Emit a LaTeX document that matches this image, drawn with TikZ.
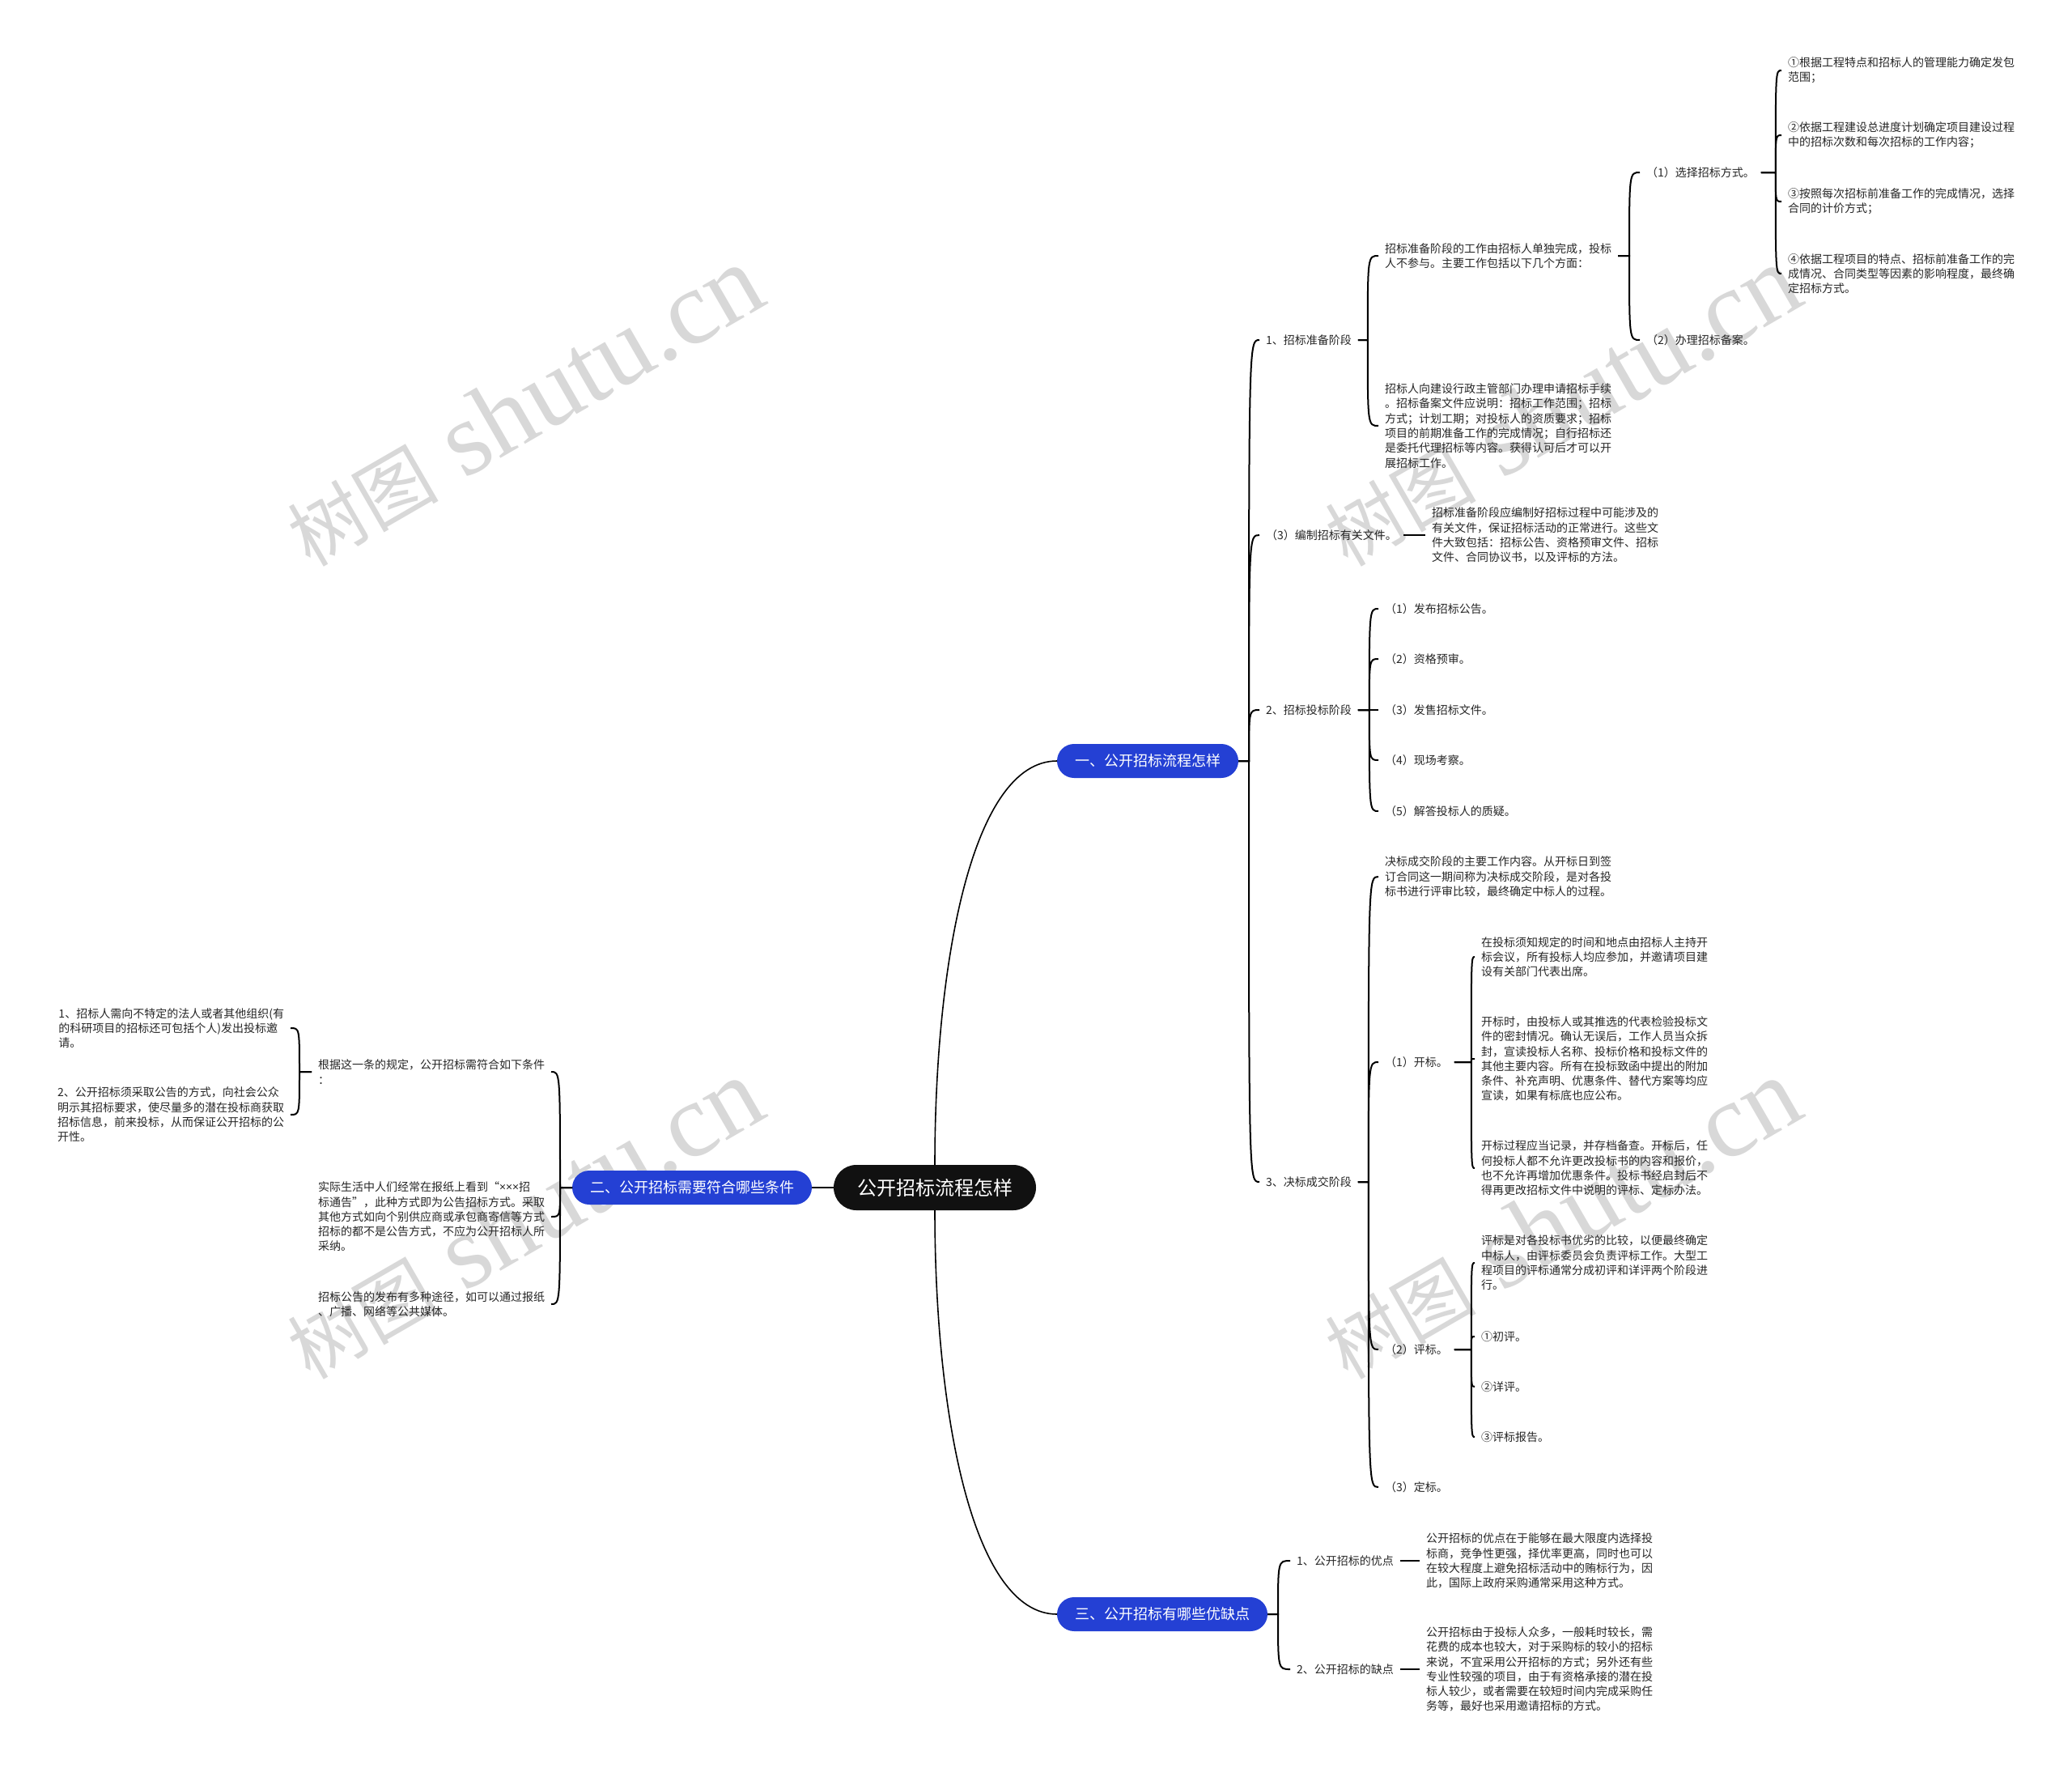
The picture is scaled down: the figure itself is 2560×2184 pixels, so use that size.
\documentclass[tikz,border=0pt]{standalone}
\usepackage{fontspec}
\setmainfont{Noto Sans CJK SC}
\newfontfamily\wmcjk{Noto Sans CJK SC}
\newfontfamily\wmlat{Liberation Serif}
\newfontfamily\latf{Noto Sans}
\usetikzlibrary{calc}
\definecolor{pillblue}{RGB}{36,64,212}
\definecolor{rootblack}{RGB}{17,17,17}
\definecolor{tcol}{RGB}{38,38,38}
\definecolor{wmgray}{RGB}{216,216,216}
\newcommand\fs{\fontsize{14}{18.3}\selectfont}
\newcommand\rlink[3]{\draw[conn] let \p1=(#1.east), \p2=(#2.west) in (\p1) -- (\x1+#3pt,\y1) .. controls (\x1+#3pt,\y2) and (\x1+#3pt,\y2) .. (\p2);}
\newcommand\llink[3]{\draw[conn] let \p1=(#1.west), \p2=(#2.east) in (\p1) -- (\x1-#3pt,\y1) .. controls (\x1-#3pt,\y2) and (\x1-#3pt,\y2) .. (\p2);}
\newcommand\wmtext{{\wmcjk\fontsize{93}{93}\selectfont 树图}{\wmlat\fontsize{130}{130}\selectfont\ shutu.cn}}
\begin{document}
\begin{tikzpicture}[x=1pt,y=-1pt,
  txt/.style={inner xsep=0pt,inner ysep=1pt,outer xsep=8pt,outer ysep=0pt,align=left,font=\fs,text=tcol},
  pill/.style={rounded corners=21pt,fill=pillblue,text=white,font=\fontsize{18}{22}\selectfont,minimum height=42pt,inner xsep=22pt,inner ysep=0pt,outer sep=0pt},
  rootpill/.style={rounded corners=28pt,fill=rootblack,text=white,font=\fontsize{24}{28}\selectfont,minimum height=56pt,inner xsep=29pt,inner ysep=0pt,outer sep=0pt},
  conn/.style={draw=black,line width=2pt},
  rconn/.style={draw=black,line width=1.6pt},
  wm/.style={rotate=30,text=wmgray,inner sep=0pt}]
\useasboundingbox (0,0) rectangle (2560,2184);
\fill[white] (0,0) rectangle (2560,2184);

% watermarks
\node[wm] (wm1) at (647,502) {\wmtext};
\node[wm] (wm2) at (1929,502) {\wmtext};
\node[wm] (wm3) at (647,1506) {\wmtext};
\node[wm] (wm4) at (1929,1506) {\wmtext};

% main nodes
\node[rootpill] (root) at (1155,1467) {公开招标流程怎样};
\node[pill] (b1) at (1418,940) {一、公开招标流程怎样};
\node[pill] (b2) at (855,1467) {二、公开招标需要符合哪些条件};
\node[pill] (b3) at (1436,1994) {三、公开招标有哪些优缺点};

% branch 1 children
\node[txt,anchor=west] (n1) at (1556,420) {1、招标准备阶段};
\node[txt,anchor=west] (n3) at (1556,661) {（3）编制招标有关文件。};
\node[txt,anchor=west] (n2) at (1556,877) {2、招标投标阶段};
\node[txt,anchor=west] (n4) at (1556,1460) {3、决标成交阶段};

\node[txt,anchor=west] (n11) at (1703,316) {招标准备阶段的工作由招标人单独完成，投标\\人不参与。主要工作包括以下几个方面：};
\node[txt,anchor=west] (n12) at (1703,526) {招标人向建设行政主管部门办理申请招标手续\\。招标备案文件应说明：招标工作范围；招标\\方式；计划工期；对投标人的资质要求；招标\\项目的前期准备工作的完成情况；自行招标还\\是委托代理招标等内容。获得认可后才可以开\\展招标工作。};

\node[txt,anchor=west] (n111) at (2026,213) {（1）选择招标方式。};
\node[txt,anchor=west] (n112) at (2026,420) {（2）办理招标备案。};

\node[txt,anchor=west] (a1) at (2201,87) {①根据工程特点和招标人的管理能力确定发包\\范围；};
\node[txt,anchor=west] (a2) at (2201,167) {②依据工程建设总进度计划确定项目建设过程\\中的招标次数和每次招标的工作内容；};
\node[txt,anchor=west] (a3) at (2201,249) {③按照每次招标前准备工作的完成情况，选择\\合同的计价方式；};
\node[txt,anchor=west] (a4) at (2201,338) {④依据工程项目的特点、招标前准备工作的完\\成情况、合同类型等因素的影响程度，最终确\\定招标方式。};

\node[txt,anchor=west] (n3c) at (1761,661) {招标准备阶段应编制好招标过程中可能涉及的\\有关文件，保证招标活动的正常进行。这些文\\件大致包括：招标公告、资格预审文件、招标\\文件、合同协议书，以及评标的方法。};

\node[txt,anchor=west] (m1) at (1703,752) {（1）发布招标公告。};
\node[txt,anchor=west] (m2) at (1703,814) {（2）资格预审。};
\node[txt,anchor=west] (m3) at (1703,877) {（3）发售招标文件。};
\node[txt,anchor=west] (m4) at (1703,939) {（4）现场考察。};
\node[txt,anchor=west] (m5) at (1703,1002) {（5）解答投标人的质疑。};

\node[txt,anchor=west] (n41) at (1703,1083) {决标成交阶段的主要工作内容。从开标日到签\\订合同这一期间称为决标成交阶段，是对各投\\标书进行评审比较，最终确定中标人的过程。};
\node[txt,anchor=west] (n42) at (1703,1312) {（1）开标。};
\node[txt,anchor=west] (n43) at (1703,1667) {（2）评标。};
\node[txt,anchor=west] (n44) at (1703,1837) {（3）定标。};

\node[txt,anchor=west] (n421) at (1822,1182) {在投标须知规定的时间和地点由招标人主持开\\标会议，所有投标人均应参加，并邀请项目建\\设有关部门代表出席。};
\node[txt,anchor=west] (n422) at (1822,1308) {开标时，由投标人或其推选的代表检验投标文\\件的密封情况。确认无误后，工作人员当众拆\\封，宣读投标人名称、投标价格和投标文件的\\其他主要内容。所有在投标致函中提出的附加\\条件、补充声明、优惠条件、替代方案等均应\\宣读，如果有标底也应公布。};
\node[txt,anchor=west] (n423) at (1822,1443) {开标过程应当记录，并存档备查。开标后，任\\何投标人都不允许更改投标书的内容和报价，\\也不允许再增加优惠条件。投标书经启封后不\\得再更改招标文件中说明的评标、定标办法。};

\node[txt,anchor=west] (n431) at (1822,1560) {评标是对各投标书优劣的比较，以便最终确定\\中标人，由评标委员会负责评标工作。大型工\\程项目的评标通常分成初评和详评两个阶段进\\行。};
\node[txt,anchor=west] (n432) at (1822,1651) {①初评。};
\node[txt,anchor=west] (n433) at (1822,1713) {②详评。};
\node[txt,anchor=west] (n434) at (1822,1775) {③评标报告。};

% branch 3 children
\node[txt,anchor=west] (c1) at (1594,1928) {1、公开招标的优点};
\node[txt,anchor=west] (c2) at (1594,2062) {2、公开招标的缺点};
\node[txt,anchor=west] (c1c) at (1754,1928) {公开招标的优点在于能够在最大限度内选择投\\标商，竞争性更强，择优率更高，同时也可以\\在较大程度上避免招标活动中的贿标行为，因\\此，国际上政府采购通常采用这种方式。};
\node[txt,anchor=west] (c2c) at (1754,2062) {公开招标由于投标人众多，一般耗时较长，需\\花费的成本也较大，对于采购标的较小的招标\\来说，不宜采用公开招标的方式；另外还有些\\专业性较强的项目，由于有资格承接的潜在投\\标人较少，或者需要在较短时间内完成采购任\\务等，最好也采用邀请招标的方式。};

% branch 2 children (left side)
\node[txt,anchor=east] (d1) at (681,1324) {根据这一条的规定，公开招标需符合如下条件\\：};
\node[txt,anchor=east] (d2) at (681,1503) {实际生活中人们经常在报纸上看到“{\latf ×××}招\\标通告”，此种方式即为公告招标方式。采取\\其他方式如向个别供应商或承包商寄信等方式\\招标的都不是公告方式，不应为公开招标人所\\采纳。};
\node[txt,anchor=east] (d3) at (681,1611) {招标公告的发布有多种途径，如可以通过报纸\\、广播、网络等公共媒体。};
\node[txt,anchor=east] (e1) at (359,1270) {1、招标人需向不特定的法人或者其他组织(有\\的科研项目的招标还可包括个人)发出投标邀\\请。};
\node[txt,anchor=east] (e2) at (359,1377) {2、公开招标须采取公告的方式，向社会公众\\明示其招标要求，使尽量多的潜在投标商获取\\招标信息，前来投标，从而保证公开招标的公\\开性。};

% connectors: root to branches
\draw[rconn] (root.north) .. controls +(0,-250) and +(-105,0) .. (b1.west);
\draw[rconn] (root.south) .. controls +(0,250) and +(-105,0) .. (b3.west);
\draw[rconn] (root.west) -- (b2.east);

% branch 1
\rlink{b1}{n1}{13}
\rlink{b1}{n3}{13}
\rlink{b1}{n2}{13}
\rlink{b1}{n4}{13}
\rlink{n1}{n11}{12}
\rlink{n1}{n12}{12}
\rlink{n11}{n111}{14}
\rlink{n11}{n112}{14}
\rlink{n111}{a1}{18}
\rlink{n111}{a2}{18}
\rlink{n111}{a3}{18}
\rlink{n111}{a4}{18}
\draw[conn] (n3.east) -- (n3c.west);
\rlink{n2}{m1}{14}
\rlink{n2}{m2}{14}
\rlink{n2}{m3}{14}
\rlink{n2}{m4}{14}
\rlink{n2}{m5}{14}
\rlink{n4}{n41}{13}
\rlink{n4}{n42}{13}
\rlink{n4}{n43}{13}
\rlink{n4}{n44}{13}
\rlink{n42}{n421}{21}
\rlink{n42}{n422}{21}
\rlink{n42}{n423}{21}
\rlink{n43}{n431}{21}
\rlink{n43}{n432}{21}
\rlink{n43}{n433}{21}
\rlink{n43}{n434}{21}

% branch 3
\rlink{b3}{c1}{13}
\rlink{b3}{c2}{13}
\draw[conn] (c1.east) -- (c1c.west);
\draw[conn] (c2.east) -- (c2c.west);

% branch 2
\llink{b2}{d1}{15}
\llink{b2}{d2}{15}
\llink{b2}{d3}{15}
\llink{d1}{e1}{15}
\llink{d1}{e2}{15}
\end{tikzpicture}
\end{document}
